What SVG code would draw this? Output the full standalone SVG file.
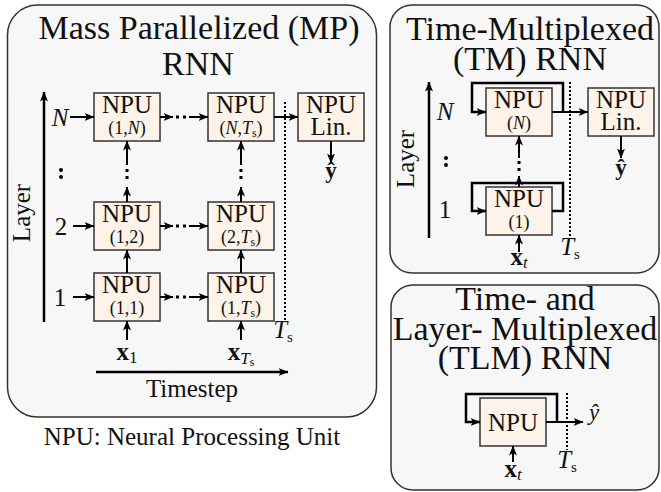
<svg xmlns="http://www.w3.org/2000/svg" width="661" height="492" viewBox="0 0 661 492" font-family="'Liberation Serif','DejaVu Serif',serif">
<style>
text{font-family:'Liberation Serif','DejaVu Serif',serif;fill:#111}
.title{font-size:34px;text-anchor:middle}
.panel{fill:#f7f7f7;stroke:#333;stroke-width:1.5}
.box{fill:#fdf3e8;stroke:#333;stroke-width:1.5}
.npu{font-size:25px;text-anchor:middle}
.sub{font-size:18px;text-anchor:middle}
.lbl{font-size:25px;text-anchor:middle}
.it{font-style:italic}
.c{stroke:#000;stroke-width:2;fill:none}
.ax{stroke:#000;stroke-width:2.5;fill:none}
.dot{stroke:#000;stroke-width:2;stroke-dasharray:2 2;fill:none}
.d{fill:#000}
</style>
<defs>
<marker id="ah" viewBox="0 0 10 8" refX="9.5" refY="4" markerWidth="10" markerHeight="8" markerUnits="userSpaceOnUse" orient="auto"><path d="M0,0 L10,4 L0,8 L2.5,4 Z" fill="#000"/></marker>
</defs>

<g id="panel-mp">
<rect class="panel" x="7.5" y="5" width="369" height="412" rx="30"/>
<text class="title" x="199" y="39" font-size="35">Mass Parallelized (MP)</text>
<text class="title" x="198" y="75">RNN</text>
<line class="ax" x1="44" y1="322" x2="44" y2="92" marker-end="url(#ah)"/>
<text class="lbl" transform="translate(30,213) rotate(-90)">Layer</text>
<text class="lbl it" x="60" y="126">N</text>
<text class="lbl" x="61" y="235">2</text>
<text class="lbl" x="60" y="306">1</text>
<circle class="d" cx="61" cy="170" r="2"/><circle class="d" cx="61" cy="177" r="2"/>
<line class="ax" x1="96" y1="372" x2="288" y2="372" marker-end="url(#ah)"/>
<text class="lbl" x="192" y="397">Timestep</text>
<line class="dot" x1="285" y1="102" x2="285" y2="320"/>
<text class="lbl" x="283" y="338"><tspan class="it">T</tspan><tspan font-size="15" dy="4">s</tspan></text>
<text class="lbl" x="127" y="360"><tspan font-weight="bold">x</tspan><tspan font-size="17" dy="3">1</tspan></text>
<text class="lbl" x="241" y="360"><tspan font-weight="bold">x</tspan><tspan class="it" font-size="17" dy="4">T</tspan><tspan font-size="12" dy="2">s</tspan></text>
<text x="331" y="178" font-size="23" font-weight="bold" text-anchor="middle">ŷ</text>
</g>
<text id="caption" class="lbl" x="192" y="445" font-size="26">NPU: Neural Processing Unit</text>

<g id="panel-tm">
<rect class="panel" x="390" y="5" width="269" height="268" rx="22"/>
<text class="title" x="530" y="40">Time-Multiplexed</text>
<text class="title" x="530" y="70">(TM) RNN</text>
<line class="ax" x1="429" y1="238" x2="429" y2="82" marker-end="url(#ah)"/>
<text class="lbl" transform="translate(414,159) rotate(-90)">Layer</text>
<text class="lbl it" x="445" y="120">N</text>
<text class="lbl" x="445" y="218">1</text>
<circle class="d" cx="446" cy="158" r="2"/><circle class="d" cx="446" cy="165" r="2"/>
<line class="dot" x1="570" y1="82" x2="570" y2="238"/>
<text class="lbl" x="570" y="255"><tspan class="it">T</tspan><tspan font-size="15" dy="4">s</tspan></text>
<text class="lbl" x="519" y="265"><tspan font-weight="bold">x</tspan><tspan class="it" font-size="17" dy="3">t</tspan></text>
<text x="621" y="175" font-size="23" font-weight="bold" text-anchor="middle">ŷ</text>
</g>

<g id="panel-tlm">
<rect class="panel" x="391" y="285" width="268" height="205" rx="22"/>
<text class="title" x="525" y="310">Time- and</text>
<text class="title" x="525" y="340">Layer- Multiplexed</text>
<text class="title" x="525" y="369">(TLM) RNN</text>
<line class="dot" x1="567" y1="393" x2="567" y2="450"/>
<text class="lbl" x="567" y="468"><tspan class="it">T</tspan><tspan font-size="15" dy="4">s</tspan></text>
<text class="lbl" x="513" y="477"><tspan font-weight="bold">x</tspan><tspan class="it" font-size="17" dy="3">t</tspan></text>
<text x="594" y="420" font-size="23" font-style="italic" text-anchor="middle">ŷ</text>
</g>

<g id="mp-1N"><rect class="box" x="94" y="93" width="66" height="48"/><text class="npu" x="127" y="113">NPU</text><text class="sub" x="127" y="134">(1,<tspan class="it">N</tspan>)</text></g>
<g id="mp-NT"><rect class="box" x="208" y="93" width="66" height="48"/><text class="npu" x="241" y="113">NPU</text><text class="sub" x="241" y="134">(<tspan class="it">N</tspan>,<tspan class="it">T</tspan><tspan font-size="12" dy="3">s</tspan><tspan dy="-3">)</tspan></text></g>
<g id="mp-lin"><rect class="box" x="298" y="93" width="66" height="48"/><text class="npu" x="331" y="113">NPU</text><text class="npu" x="331" y="135">Lin.</text></g>
<g id="mp-12"><rect class="box" x="94" y="202" width="66" height="48"/><text class="npu" x="127" y="222">NPU</text><text class="sub" x="127" y="243">(1,2)</text></g>
<g id="mp-2T"><rect class="box" x="208" y="202" width="66" height="48"/><text class="npu" x="241" y="222">NPU</text><text class="sub" x="241" y="243">(2,<tspan class="it">T</tspan><tspan font-size="12" dy="3">s</tspan><tspan dy="-3">)</tspan></text></g>
<g id="mp-11"><rect class="box" x="94" y="273" width="66" height="48"/><text class="npu" x="127" y="293">NPU</text><text class="sub" x="127" y="314">(1,1)</text></g>
<g id="mp-1T"><rect class="box" x="208" y="273" width="66" height="48"/><text class="npu" x="241" y="293">NPU</text><text class="sub" x="241" y="314">(1,<tspan class="it">T</tspan><tspan font-size="12" dy="3">s</tspan><tspan dy="-3">)</tspan></text></g>

<g id="tm-N"><rect class="box" x="486" y="88" width="66" height="48"/><text class="npu" x="519" y="108">NPU</text><text class="sub" x="519" y="129">(<tspan class="it">N</tspan>)</text></g>
<g id="tm-1"><rect class="box" x="486" y="187" width="66" height="48"/><text class="npu" x="519" y="207">NPU</text><text class="sub" x="519" y="228">(1)</text></g>
<g id="tm-lin"><rect class="box" x="588" y="88" width="66" height="48"/><text class="npu" x="621" y="108">NPU</text><text class="npu" x="621" y="130">Lin.</text></g>

<g id="tlm-npu"><rect class="box" x="480" y="398" width="66" height="48"/><text class="npu" x="513" y="431">NPU</text></g>

<g id="connectors">
<line class="c" x1="70" y1="117" x2="94" y2="117" marker-end="url(#ah)"/>
<line class="c" x1="73" y1="226" x2="94" y2="226" marker-end="url(#ah)"/>
<line class="c" x1="73" y1="297" x2="94" y2="297" marker-end="url(#ah)"/>
<line class="c" x1="160" y1="117" x2="173" y2="117" marker-end="url(#ah)"/><rect class="d" x="176" y="115.5" width="3" height="3"/><rect class="d" x="183" y="115.5" width="3" height="3"/><line class="c" x1="189" y1="117" x2="208" y2="117" marker-end="url(#ah)"/>
<line class="c" x1="160" y1="226" x2="173" y2="226" marker-end="url(#ah)"/><rect class="d" x="176" y="224.5" width="3" height="3"/><rect class="d" x="183" y="224.5" width="3" height="3"/><line class="c" x1="189" y1="226" x2="208" y2="226" marker-end="url(#ah)"/>
<line class="c" x1="160" y1="297" x2="173" y2="297" marker-end="url(#ah)"/><rect class="d" x="176" y="295.5" width="3" height="3"/><rect class="d" x="183" y="295.5" width="3" height="3"/><line class="c" x1="189" y1="297" x2="208" y2="297" marker-end="url(#ah)"/>
<line class="c" x1="127" y1="202" x2="127" y2="187" marker-end="url(#ah)"/><rect class="d" x="125.5" y="176" width="3" height="3"/><rect class="d" x="125.5" y="169" width="3" height="3"/><line class="c" x1="127" y1="165" x2="127" y2="141" marker-end="url(#ah)"/>
<line class="c" x1="241" y1="202" x2="241" y2="187" marker-end="url(#ah)"/><rect class="d" x="239.5" y="176" width="3" height="3"/><rect class="d" x="239.5" y="169" width="3" height="3"/><line class="c" x1="241" y1="165" x2="241" y2="141" marker-end="url(#ah)"/>
<line class="c" x1="127" y1="273" x2="127" y2="250" marker-end="url(#ah)"/>
<line class="c" x1="241" y1="273" x2="241" y2="250" marker-end="url(#ah)"/>
<line class="c" x1="127" y1="340" x2="127" y2="321" marker-end="url(#ah)"/>
<line class="c" x1="241" y1="340" x2="241" y2="321" marker-end="url(#ah)"/>
<line class="c" x1="274" y1="117" x2="298" y2="117" marker-end="url(#ah)"/>
<line class="c" x1="331" y1="141" x2="331" y2="163" marker-end="url(#ah)"/>
<path class="ax" d="M563,112 V83 H472 V112 H486" marker-end="url(#ah)"/>
<path class="ax" d="M552,211 H563 V183 H472 V211 H486" marker-end="url(#ah)"/>
<line class="c" x1="552" y1="112" x2="588" y2="112" marker-end="url(#ah)"/>
<line class="c" x1="519" y1="187" x2="519" y2="176" marker-end="url(#ah)"/><rect class="d" x="517.5" y="168" width="3" height="3"/><rect class="d" x="517.5" y="161" width="3" height="3"/><line class="c" x1="519" y1="158" x2="519" y2="136" marker-end="url(#ah)"/>
<line class="c" x1="519" y1="252" x2="519" y2="235" marker-end="url(#ah)"/>
<line class="c" x1="621" y1="136" x2="621" y2="158" marker-end="url(#ah)"/>
<path class="ax" d="M557,422 V394 H466 V422 H480" marker-end="url(#ah)"/>
<line class="c" x1="546" y1="422" x2="583" y2="422" marker-end="url(#ah)"/>
<line class="c" x1="513" y1="462" x2="513" y2="446" marker-end="url(#ah)"/>
</g>
</svg>
